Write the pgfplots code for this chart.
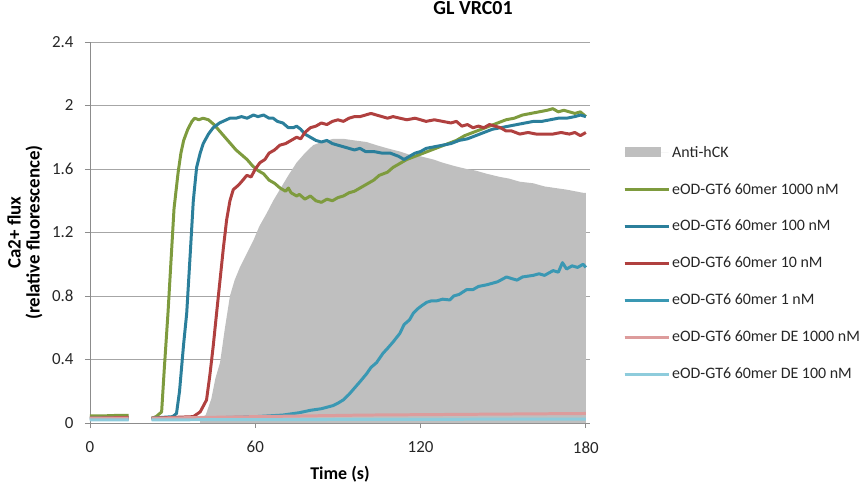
\documentclass[border=0pt]{standalone}
\usepackage{pgfplots}
\pgfplotsset{compat=1.18}
\usepackage{fontspec}
\setmainfont{Carlito}
\definecolor{cgreen}{HTML}{7E9B3E}
\definecolor{cdteal}{HTML}{2B7F9B}
\definecolor{cred}{HTML}{B0403F}
\definecolor{cteal}{HTML}{3A98B3}
\definecolor{cpink}{HTML}{DD9C9C}
\definecolor{clblue}{HTML}{8ECCDC}
\definecolor{cgray}{HTML}{BFBFBF}
\definecolor{cgrid}{HTML}{A6A6A6}
\definecolor{caxis}{HTML}{8C8C8C}
\pgfplotsset{
  legline/.style={legend image code/.code={\draw[##1] (0bp,0bp) -- (36bp,0bp);\path (0bp,0bp) -- (44bp,0bp);}},
  legarea/.style={legend image code/.code={\fill[cgray] (0bp,-5bp) rectangle (36bp,5bp);\path (0bp,0bp) -- (44bp,0bp);}},
}
\begin{document}
\begin{tikzpicture}
\path[use as bounding box] (-90bp,-66bp) rectangle (769bp,423bp);
\begin{axis}[
  scale only axis,
  width=500bp, height=381bp,
  xmin=0, xmax=181.5, ymin=0, ymax=2.4,
  axis x line=bottom, axis y line=left,
  axis line style={-, caxis, line width=0.8pt},
  xtick={0,60,120,180},
  ytick={0,0.4,0.8,1.2,1.6,2,2.4},
  yticklabels={0,0.4,0.8,1.2,1.6,2,2.4},
  xticklabels={0,60,120,180},
  tick style={caxis, line width=0.8pt},
  major tick length=5bp,
  tick align=outside,
  ymajorgrids,
  grid style={cgrid, line width=0.8pt},
  ticklabel style={font=\fontsize{17}{19}\selectfont, text=black!85},
  xticklabel style={yshift=-10bp},
  yticklabel style={xshift=-8bp},
  unbounded coords=jump,
  xlabel={\textbf{Time (s)}},
  ylabel={\textbf{Ca2+ flux}\\\textbf{(relative fluorescence)}},
  xlabel style={font=\fontsize{18}{20}\selectfont, at={(axis description cs:0.5,0)}, anchor=center, yshift=-51bp},
  ylabel style={font=\fontsize{19}{19}\selectfont, align=center, at={(axis description cs:-0.13,0.5)}, anchor=center},
  title={\textbf{GL VRC01}},
  title style={font=\fontsize{20}{22}\selectfont, at={(axis description cs:0.766,1)}, anchor=center, yshift=28bp},
  legend style={at={(axis description cs:1.06,0.738)}, anchor=north west, draw=none, fill=none,
    font=\fontsize{16}{18}\selectfont, row sep=20.7bp, text=black!85},
  legend cell align=left,
  every axis plot/.append style={line width=3pt, line join=round},
]
\addplot[fill=cgray, draw=none, line width=0pt, legarea]
coordinates {(40,0.03)(42,0.05)(44,0.15)(45.5,0.28)(47.2,0.38)(49,0.6)(50.8,0.80)(52.5,0.90)(54.4,0.98)(57,1.07)(59.3,1.15)(61.5,1.24)(64.1,1.32)(66.5,1.40)(68.9,1.47)(72,1.56)(75,1.64)(78,1.70)(81,1.75)(84,1.77)(88.3,1.79)(92,1.79)(96,1.78)(100.4,1.77)(104,1.75)(108,1.73)(112.5,1.71)(116,1.69)(120,1.68)(124.6,1.66)(128,1.64)(132,1.62)(136.7,1.60)(140,1.59)(144,1.57)(148.8,1.55)(152,1.54)(156,1.52)(160.9,1.51)(165,1.49)(169,1.48)(173,1.47)(176,1.46)(179,1.45)(180,1.45)} \closedcycle;
\addlegendentry{Anti-hCK}
\addplot[cgreen, legline]
coordinates {(0,0.045)(5,0.045)(10,0.048)(14,0.048)(15,nan)(22.4,0.03)(24,0.04)(26,0.07)(27,0.35)(28.3,0.69)(29.5,1.05)(30.5,1.35)(32,1.58)(33,1.70)(34,1.78)(35.5,1.85)(37,1.90)(38,1.92)(39.5,1.91)(41,1.92)(43,1.91)(45,1.88)(47,1.84)(49,1.80)(51,1.76)(53,1.72)(55,1.69)(57,1.66)(59,1.62)(61,1.59)(63,1.57)(65,1.53)(67,1.51)(69,1.48)(71,1.46)(72,1.48)(73,1.45)(75,1.43)(76,1.44)(78,1.41)(80,1.43)(82,1.40)(84,1.39)(86,1.41)(88,1.40)(90,1.42)(92,1.43)(94,1.45)(96,1.46)(98,1.48)(100,1.50)(103,1.53)(105,1.56)(108,1.58)(110,1.61)(112,1.63)(115,1.66)(118,1.68)(121,1.70)(124,1.72)(127,1.74)(130,1.76)(133,1.78)(136,1.81)(139,1.83)(142,1.85)(145,1.87)(148,1.89)(151,1.91)(154,1.92)(157,1.94)(160,1.95)(163,1.96)(166,1.97)(168,1.98)(170,1.96)(172,1.97)(174,1.96)(176,1.95)(178,1.96)(180,1.93)};
\addlegendentry{eOD-GT6 60mer 1000 nM}
\addplot[cdteal, legline]
coordinates {(0,0.03)(14,0.03)(15,nan)(22.4,0.03)(26,0.035)(30,0.04)(31.4,0.06)(32.5,0.2)(34,0.5)(35.1,0.69)(36.5,1.1)(37.5,1.4)(38.7,1.61)(40,1.70)(41.1,1.76)(43,1.82)(44.7,1.86)(47,1.89)(50.8,1.92)(53,1.92)(55,1.93)(57,1.92)(59.3,1.94)(61,1.93)(63,1.94)(65,1.92)(66.5,1.92)(68,1.90)(70,1.89)(72,1.86)(73.8,1.86)(75,1.87)(76.5,1.85)(78,1.82)(80,1.80)(82,1.78)(84,1.77)(86,1.78)(88,1.76)(90,1.75)(92,1.74)(94,1.73)(96,1.72)(98,1.73)(100,1.71)(103,1.71)(106,1.70)(109,1.70)(112,1.68)(114,1.66)(116,1.68)(118,1.70)(120,1.71)(122,1.73)(125,1.74)(128,1.75)(131,1.76)(134,1.78)(137,1.79)(140,1.81)(143,1.83)(146,1.85)(149,1.86)(152,1.87)(155,1.88)(158,1.89)(161,1.90)(164,1.90)(167,1.91)(170,1.92)(173,1.92)(176,1.93)(178,1.94)(180,1.93)};
\addlegendentry{eOD-GT6 60mer 100 nM}
\addplot[cred, legline]
coordinates {(0,0.03)(14,0.035)(15,nan)(22.4,0.03)(30,0.035)(37.5,0.04)(40,0.07)(42.3,0.145)(43.5,0.3)(44.7,0.48)(46,0.7)(47.2,0.90)(48.4,1.1)(49.6,1.28)(50.8,1.40)(52,1.47)(54,1.50)(55.5,1.53)(56.9,1.56)(58.5,1.55)(60,1.60)(61.7,1.64)(63.5,1.66)(65,1.70)(67,1.72)(68.9,1.75)(71,1.76)(73,1.78)(75,1.80)(76.5,1.79)(78,1.83)(80,1.86)(82,1.87)(84,1.89)(86,1.88)(88,1.90)(90,1.91)(92,1.90)(94,1.92)(96,1.93)(98,1.93)(100,1.94)(102,1.95)(104,1.94)(106,1.93)(108,1.92)(110,1.93)(112.5,1.92)(115,1.91)(118,1.92)(120,1.91)(122,1.90)(125,1.91)(128,1.90)(131,1.89)(133,1.90)(135,1.87)(137,1.88)(139,1.86)(141,1.87)(143,1.86)(145,1.88)(147,1.87)(149,1.86)(151,1.84)(153,1.84)(156,1.82)(159,1.83)(162,1.82)(165,1.82)(168,1.82)(171,1.83)(174,1.82)(176,1.83)(178,1.81)(180,1.83)};
\addlegendentry{eOD-GT6 60mer 10 nM}
\addplot[cteal, legline]
coordinates {(0,0.025)(14,0.025)(15,nan)(22.4,0.025)(30,0.028)(40,0.03)(50,0.035)(60,0.04)(70,0.05)(76,0.065)(80,0.08)(84,0.09)(88.3,0.11)(90,0.125)(91.9,0.145)(94,0.18)(96,0.22)(98,0.26)(100.4,0.31)(102,0.35)(104,0.38)(106.4,0.44)(108,0.47)(110,0.51)(112.5,0.565)(114,0.62)(116,0.65)(117.3,0.69)(119,0.72)(120.5,0.74)(122.2,0.76)(124,0.77)(126,0.77)(128,0.78)(130.6,0.775)(132,0.80)(134,0.81)(136.7,0.84)(139,0.84)(141,0.86)(143.9,0.87)(146,0.88)(148,0.89)(151.2,0.92)(153,0.91)(155,0.90)(157,0.92)(160.9,0.93)(163,0.94)(165,0.93)(168.1,0.96)(170,0.95)(171.5,1.01)(173,0.97)(175,0.99)(177,0.98)(179,1.00)(180,0.98)};
\addlegendentry{eOD-GT6 60mer 1 nM}
\addplot[cpink, legline]
coordinates {(0,0.03)(14,0.03)(15,nan)(22.4,0.03)(60,0.04)(100,0.05)(140,0.055)(180,0.06)};
\addlegendentry{eOD-GT6 60mer DE 1000 nM}
\addplot[clblue, legline]
coordinates {(0,0.02)(14,0.02)(15,nan)(22.4,0.02)(180,0.025)};
\addlegendentry{eOD-GT6 60mer DE 100 nM}
\end{axis}
\end{tikzpicture}
\end{document}
